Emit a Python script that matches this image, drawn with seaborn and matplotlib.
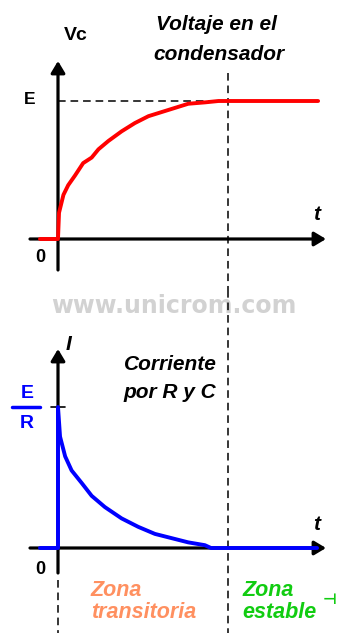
import matplotlib
matplotlib.use("Agg")
import matplotlib.pyplot as plt
import seaborn as sns
import pandas as pd

sns.set_theme(style="white")
plt.rcParams["font.family"] = ["Liberation Sans", "DejaVu Sans"]

# ---- data (time in units of tau, values normalised to E and E/R) ----
vc_t = [-0.53, 0.0, 0.03, 0.16, 0.30, 0.50, 0.74, 0.99, 1.19, 1.48, 1.87, 2.26,
        2.66, 3.05, 3.44, 3.83, 4.32, 4.72, 7.65]
vc_v = [0.0, 0.0, 0.19, 0.32, 0.39, 0.46, 0.55, 0.59, 0.65, 0.71, 0.78, 0.84,
        0.89, 0.92, 0.95, 0.98, 0.99, 1.0, 1.0]
i_t = [-0.53, 0.0, 0.0, 0.06, 0.21, 0.40, 0.70, 0.99, 1.38, 1.87, 2.36, 2.85,
       3.34, 3.83, 4.32, 4.50, 7.62]
i_v = [0.0, 0.0, 1.0, 0.79, 0.65, 0.55, 0.46, 0.37, 0.29, 0.21, 0.15, 0.10,
       0.07, 0.04, 0.02, 0.0, 0.0]
t_steady = 5.0
E_level = 1.0
ER_level = 1.0
top_title = ["Voltaje en el", "condensador"]
bot_title = ["Corriente", "por R y C"]
zone1 = ["Zona", "transitoria"]
zone2 = ["Zona", "estable"]

W, H = 337, 633
fig = plt.figure(figsize=(W / 100, H / 100), dpi=100)
fig.patch.set_facecolor("white")

PX, X0 = 34.0, 58.0
def tx(px):
    return (px - X0) / PX

xlim = (tx(0), tx(W))
ax1 = fig.add_axes([0, 1 - 290 / H, 1, 290 / H])
ax1.set_xlim(xlim)
ax1.set_ylim(-(290 - 239) / 138, 239 / 138)
ax2 = fig.add_axes([0, 0, 1, 343 / H])
ax2.set_xlim(xlim)
ax2.set_ylim(-(633 - 548) / 141, (548 - 290) / 141)
for ax in (ax1, ax2):
    ax.set_axis_off()

arrow = dict(arrowstyle="-|>,head_length=0.5,head_width=0.3", color="black",
             lw=2.3, mutation_scale=14, shrinkA=0, shrinkB=0)

# top panel axes
ax1.annotate("", xy=(tx(326), 0), xytext=(tx(30), 0), arrowprops=arrow, zorder=2)
ax1.annotate("", xy=(0, (239 - 61) / 138), xytext=(0, -(270 - 239) / 138),
             arrowprops=arrow, zorder=2)
# bottom panel axes
ax2.annotate("", xy=(tx(326), 0), xytext=(tx(30), 0), arrowprops=arrow, zorder=2)
ax2.annotate("", xy=(0, (548 - 349) / 141), xytext=(0, -(573 - 548) / 141),
             arrowprops=arrow, zorder=2)

dash = (0, (5, 3.2))
# dashed guides
ax1.plot([0, t_steady], [E_level, E_level], color="black", lw=1.1, ls=dash, zorder=1)
ax1.plot([t_steady, t_steady], [(239 - 73) / 138, ax1.get_ylim()[0]], color="black",
         lw=1.1, ls=dash, zorder=1, clip_on=False)
ax2.plot([t_steady, t_steady], [ax2.get_ylim()[1], ax2.get_ylim()[0]], color="black",
         lw=1.1, ls=dash, zorder=1)
ax2.plot([0, 0], [-(580 - 548) / 141, ax2.get_ylim()[0]], color="black",
         lw=1.1, ls=dash, zorder=1)
# E/R tick
ax2.plot([tx(51), tx(65)], [ER_level, ER_level], color="black", lw=1.2, zorder=1)

# curves
df_v = pd.DataFrame({"t": vc_t, "v": vc_v})
df_i = pd.DataFrame({"t": i_t, "i": i_v})
sns.lineplot(data=df_v, x="t", y="v", ax=ax1, color="#ff0000", lw=2.8,
             sort=False, estimator=None, zorder=3)
sns.lineplot(data=df_i, x="t", y="i", ax=ax2, color="#0000ff", lw=2.8,
             sort=False, estimator=None, zorder=3)
for ax in (ax1, ax2):
    ax.set_axis_off()
    if ax.get_legend():
        ax.get_legend().remove()

# E/R fraction bar
ax2.plot([tx(12), tx(40)], [ER_level, ER_level], color="#0000ff", lw=2.5,
         clip_on=False, zorder=3)

def ftext(px, py, s, **kw):
    fig.text(px / W, 1 - py / H, s, **kw)

bi = dict(fontweight="bold", fontstyle="italic")
ftext(216, 25, top_title[0], ha="center", va="center", fontsize=15, color="black", **bi)
ftext(219, 55, top_title[1], ha="center", va="center", fontsize=15, color="black", **bi)
ftext(76, 36, "Vc", ha="center", va="center", fontsize=14, color="black", fontweight="bold")
ftext(317, 214, "t", ha="center", va="center", fontsize=15, color="black", **bi)
ftext(30, 100, "E", ha="center", va="center", fontsize=12.5, color="black", fontweight="bold")
ftext(40, 258, "0", ha="center", va="center", fontsize=13, color="black", fontweight="bold")

ftext(174, 306, "www.unicrom.com", ha="center", va="center", fontsize=17,
      color="#d2d2d2", fontweight="bold", family=["DejaVu Sans"], zorder=-1)

ftext(68, 344, "I", ha="center", va="center", fontsize=15, color="black", **bi)
ftext(170, 365, bot_title[0], ha="center", va="center", fontsize=15, color="black", **bi)
ftext(170, 393, bot_title[1], ha="center", va="center", fontsize=15, color="black", **bi)
ftext(27, 393, "E", ha="center", va="center", fontsize=14, color="#0000ff", fontweight="bold")
ftext(27, 424, "R", ha="center", va="center", fontsize=14, color="#0000ff", fontweight="bold")
ftext(317, 525, "t", ha="center", va="center", fontsize=15, color="black", **bi)
ftext(40, 569, "0", ha="center", va="center", fontsize=13, color="black", fontweight="bold")

orange = "#ff9060"
green = "#11cc11"
ftext(91, 590, zone1[0], ha="left", va="center", fontsize=15.5, color=orange, **bi)
ftext(91, 612, zone1[1], ha="left", va="center", fontsize=15.5, color=orange, **bi)
ftext(242, 590, zone2[0], ha="left", va="center", fontsize=15.5, color=green, **bi)
ftext(242, 612, zone2[1], ha="left", va="center", fontsize=15.5, color=green, **bi)
ftext(330, 599, "\u22a3", ha="center", va="center", fontsize=11, color=green,
      fontweight="bold", family=["DejaVu Sans"])

fig.savefig("out.png", dpi=100, facecolor="white")
